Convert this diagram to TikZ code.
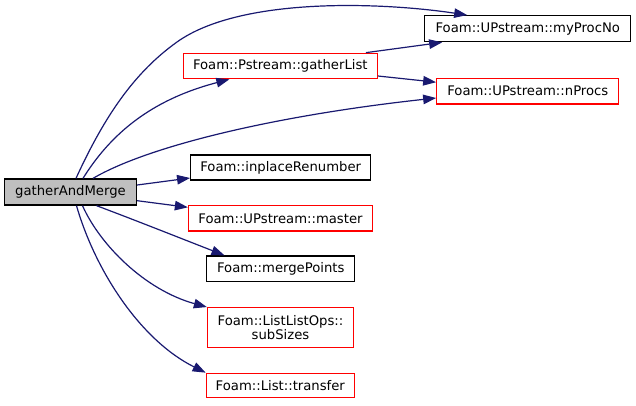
\documentclass[tikz,border=0pt]{standalone}
\usepackage{fontspec}
\setmainfont{DejaVu Sans}
\usetikzlibrary{arrows.meta}
\definecolor{edgeblue}{RGB}{25,25,112}
\definecolor{boxred}{RGB}{255,0,0}
\definecolor{boxgray}{RGB}{191,191,191}
\begin{document}
\begin{tikzpicture}[x=1pt,y=-1pt,
  fn/.style={draw=black,line width=1.3pt,inner sep=0pt,align=center,
    font=\fontsize{13.2}{14}\selectfont},
  redfn/.style={fn,draw=boxred},
  rootfn/.style={fn,fill=boxgray},
  edge/.style={draw=edgeblue,line width=1.2pt,
    -{Triangle[length=13pt,width=9.5pt]}}]
\useasboundingbox (0,0) rectangle (636,405);
\node[rootfn,minimum width=132pt,minimum height=26pt] (gam) at (70.5,192) {gatherAndMerge};
\node[redfn,minimum width=194pt,minimum height=25.4pt] (gl) at (280.3,66) {Foam::Pstream::gatherList};
\node[fn,minimum width=206pt,minimum height=26pt] (mp) at (527.8,28.7) {Foam::UPstream::myProcNo};
\node[redfn,minimum width=182pt,minimum height=25.7pt] (np) at (527.8,91.2) {Foam::UPstream::nProcs};
\node[fn,minimum width=180pt,minimum height=25pt] (ir) at (280.7,167.5) {Foam::inplaceRenumber};
\node[redfn,minimum width=184pt,minimum height=25.3pt] (ms) at (280.5,218.3) {Foam::UPstream::master};
\node[fn,minimum width=148pt,minimum height=25.7pt] (mg) at (280.8,268.8) {Foam::mergePoints};
\node[redfn,minimum width=146pt,minimum height=40pt] (ss) at (280.5,327.7) {Foam::ListListOps::\\subSizes};
\node[redfn,minimum width=148pt,minimum height=24.4pt] (tr) at (280.3,385.5) {Foam::List::transfer};

\draw[edge] ([xshift=5.5pt]gam.north) .. controls (105,115) and (135,72) .. (177,42)
  .. controls (240,-3) and (380,2) .. ([xshift=43pt]mp.north west);
\draw[edge] ([xshift=12.5pt]gam.north) .. controls (110,135) and (150,100) .. ([xshift=46.7pt]gl.south west);
\draw[edge] ([xshift=22.5pt]gam.north) .. controls (150,145) and (280,115) .. ([yshift=-6.8pt]np.west);
\draw[edge] ([xshift=-12pt]gl.north east) -- ([xshift=18pt]mp.south west);
\draw[edge] ([yshift=-10pt]gl.east) -- ([yshift=9pt]np.west);
\draw[edge] ([yshift=7pt]gam.east) -- ([yshift=-10.5pt]ir.west);
\draw[edge] ([yshift=-8.7pt]gam.east) -- ([yshift=11pt]ms.west);
\draw[edge] ([xshift=26pt]gam.south) .. controls (140,222) and (185,240) .. ([xshift=18.3pt]mg.north west);
\draw[edge] ([xshift=12pt]gam.south) .. controls (100,245) and (145,290) .. (ss.north west);
\draw[edge] ([xshift=6pt]gam.south) .. controls (95,270) and (140,340) .. (tr.north west);
\end{tikzpicture}
\end{document}
